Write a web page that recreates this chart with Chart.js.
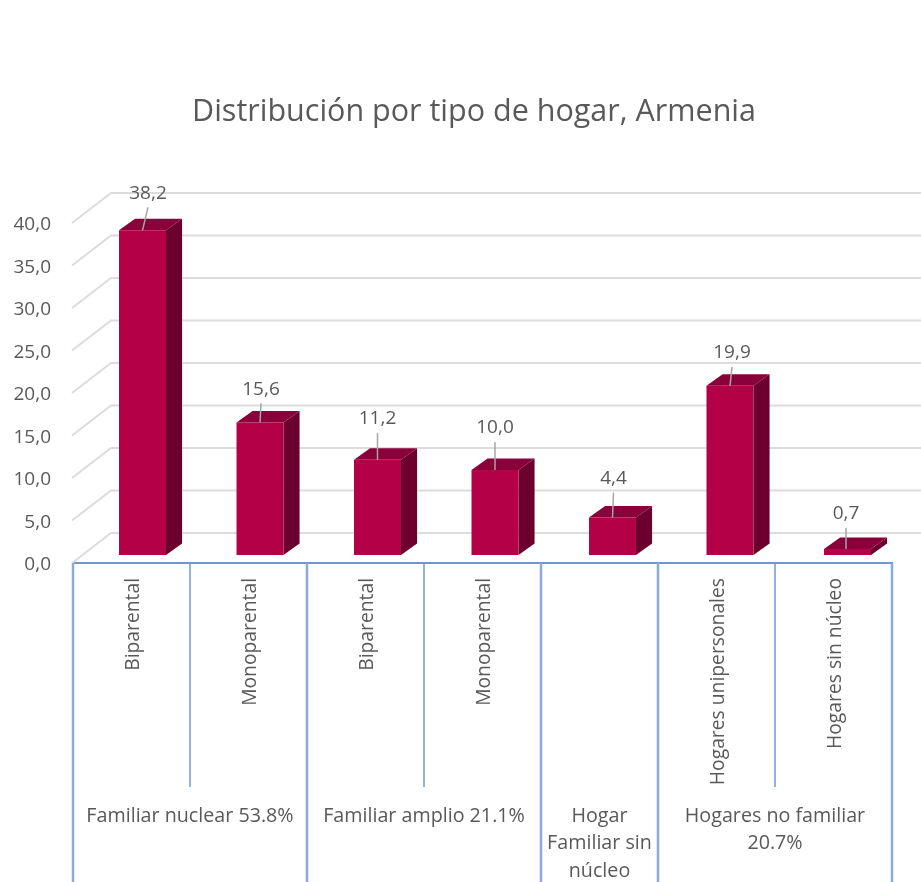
<!DOCTYPE html>
<html>
<head>
<meta charset="utf-8">
<title>Distribución por tipo de hogar, Armenia</title>
<script src="https://cdn.jsdelivr.net/npm/chart.js@4"></script>
<style>
    html, body { margin: 0; padding: 0; background: #fff; }
    canvas { display: block; }
</style>
</head>
<body>
<canvas id="hogarChart" width="921" height="882"></canvas>
<script>
// ============================================
// Data
// ============================================
const categories = ['Biparental', 'Monoparental', 'Biparental', 'Monoparental', '', 'Hogares unipersonales', 'Hogares sin núcleo'];
const values = [38.2, 15.6, 11.2, 10.0, 4.4, 19.9, 0.7];
const groupLabels = [
    ['Familiar nuclear 53.8%'],
    ['Familiar amplio 21.1%'],
    ['Hogar', 'Familiar sin', 'núcleo'],
    ['Hogares no familiar', '20.7%']
];
const groupSpans = [2, 2, 1, 2];

const FONT = '"Open Sans", sans-serif';
const TEXT_COLOR = '#595959';
const GRID_COLOR = '#dcdcdc';
const AXIS_BLUE = '#6f97cc';
const AXIS_BLUE_LIGHT = '#8aaad8';

// fake 3D: floor shift of the grid, shift of the bars, depth of a bar
const FLOOR = { dx: 39, dy: -30 };
const BAR_SHIFT = { dx: 10.75, dy: -8 };
const BAR_STRETCH = 117.5 / 117;
const BAR_DEPTH = { dx: 16, dy: -11.5 };
// where each value label sits, measured from the middle of the bar's top edge
const labelOffsets = [[5.5, -37], [1, -33], [0, -41], [0, -42], [1, -39], [2, -33], [-1.5, -35]];

function formatValue(v) {
    return v.toFixed(1).replace('.', ',');
}

function polygon(ctx, points, color) {
    ctx.fillStyle = color;
    ctx.beginPath();
    points.forEach((p, i) => i ? ctx.lineTo(p[0], p[1]) : ctx.moveTo(p[0], p[1]));
    ctx.closePath();
    ctx.fill();
}

function shiftedBarX(chart, x) {
    const left = chart.chartArea.left;
    return left + (x - left) * BAR_STRETCH + BAR_SHIFT.dx;
}

// Grid lines: diagonal on the side wall, then flat on the back wall
const gridPlugin = {
    id: 'grid3d',
    beforeDatasetsDraw(chart) {
        const ctx = chart.ctx;
        const y = chart.scales.y;
        const left = chart.chartArea.left - 1;
        ctx.save();
        ctx.strokeStyle = GRID_COLOR;
        ctx.lineWidth = 2;
        y.ticks.forEach(t => {
            const py = y.getPixelForValue(t.value);
            ctx.beginPath();
            ctx.moveTo(left, py);
            ctx.lineTo(left + FLOOR.dx, py + FLOOR.dy);
            ctx.lineTo(chart.width, py + FLOOR.dy);
            ctx.stroke();
        });
        ctx.restore();
    }
};

// Side and top faces of the bars, plus the shift of the whole series
const barPlugin = {
    id: 'bars3d',
    beforeDatasetDraw(chart, args) {
        const ctx = chart.ctx;
        const left = chart.chartArea.left;
        ctx.save();
        ctx.translate(left + BAR_SHIFT.dx, BAR_SHIFT.dy);
        ctx.scale(BAR_STRETCH, 1);
        ctx.translate(-left, 0);
        chart.getDatasetMeta(args.index).data.forEach(bar => {
            const l = bar.x - bar.width / 2;
            const r = bar.x + bar.width / 2;
            polygon(ctx, [[r, bar.y], [r + BAR_DEPTH.dx, bar.y + BAR_DEPTH.dy], [r + BAR_DEPTH.dx, bar.base + BAR_DEPTH.dy], [r, bar.base]], '#6b002e');
            polygon(ctx, [[l, bar.y], [l + BAR_DEPTH.dx, bar.y + BAR_DEPTH.dy], [r + BAR_DEPTH.dx, bar.y + BAR_DEPTH.dy], [r, bar.y]], '#8a003a');
        });
    },
    afterDatasetDraw(chart) {
        chart.ctx.restore();
    }
};

// Value labels with their leader lines
const labelPlugin = {
    id: 'valueLabels',
    afterDatasetsDraw(chart) {
        const ctx = chart.ctx;
        ctx.save();
        ctx.font = '19px ' + FONT;
        ctx.textAlign = 'center';
        ctx.textBaseline = 'middle';
        chart.getDatasetMeta(0).data.forEach((bar, i) => {
            const x0 = shiftedBarX(chart, bar.x) + Math.min(labelOffsets[i][0], 0);
            const y0 = bar.y + BAR_SHIFT.dy;
            const lx = shiftedBarX(chart, bar.x) + labelOffsets[i][0];
            const ly = y0 + labelOffsets[i][1];
            ctx.strokeStyle = '#a6a6a6';
            ctx.lineWidth = 1.5;
            ctx.beginPath();
            ctx.moveTo(x0, y0);
            ctx.lineTo(lx, ly + 14);
            ctx.stroke();
            ctx.fillStyle = TEXT_COLOR;
            ctx.fillText(formatValue(values[i]), lx, ly);
        });
        ctx.restore();
    }
};

// Second level of the category axis: separators and group names
const groupPlugin = {
    id: 'groupAxis',
    afterLayout(chart) {
        // title sits a bit right of the canvas middle
        chart.titleBlock.left = 56;
    },
    afterDraw(chart) {
        const ctx = chart.ctx;
        const x = chart.scales.x;
        const area = chart.chartArea;
        const bandWidth = x.getPixelForValue(1) - x.getPixelForValue(0);
        const edge = i => x.getPixelForValue(i) - bandWidth / 2;
        ctx.save();
        ctx.strokeStyle = AXIS_BLUE;
        ctx.lineWidth = 1.5;
        categories.forEach((_, i) => {
            ctx.beginPath();
            ctx.moveTo(edge(i), area.bottom);
            ctx.lineTo(edge(i), 787);
            ctx.stroke();
        });
        ctx.font = '19.7px ' + FONT;
        ctx.textAlign = 'center';
        ctx.textBaseline = 'middle';
        ctx.strokeStyle = AXIS_BLUE_LIGHT;
        ctx.lineWidth = 2.5;
        let start = 0;
        groupSpans.forEach((span, g) => {
            ctx.beginPath();
            ctx.moveTo(edge(start), area.bottom);
            ctx.lineTo(edge(start), chart.height);
            ctx.stroke();
            const cx = (edge(start) + edge(start + span)) / 2;
            ctx.fillStyle = TEXT_COLOR;
            groupLabels[g].forEach((line, k) => ctx.fillText(line, cx, 816 + k * 27.5));
            start += span;
        });
        ctx.beginPath();
        ctx.moveTo(edge(start), area.bottom);
        ctx.lineTo(edge(start), chart.height);
        ctx.stroke();
        ctx.restore();
    }
};

new Chart(document.getElementById('hogarChart').getContext('2d'), {
    type: 'bar',
    data: {
        labels: categories,
        datasets: [{
            data: values,
            backgroundColor: '#b30046',
            barPercentage: 0.4,
            categoryPercentage: 1
        }]
    },
    plugins: [gridPlugin, barPlugin, labelPlugin, groupPlugin],
    options: {
        responsive: false,
        animation: false,
        layout: {
            autoPadding: false,
            padding: { left: 0, right: 29, top: 0, bottom: 0 }
        },
        plugins: {
            legend: { display: false },
            tooltip: { enabled: false },
            title: {
                display: true,
                text: 'Distribución por tipo de hogar, Armenia',
                color: TEXT_COLOR,
                font: { family: FONT, size: 30.5, weight: 'normal', lineHeight: 1.2 },
                padding: { top: 94, bottom: 92.4 }
            }
        },
        scales: {
            x: {
                afterFit(axis) { axis.height = 319; },
                grid: { display: false },
                border: { display: true, color: AXIS_BLUE, width: 2 },
                ticks: {
                    autoSkip: false,
                    minRotation: 90,
                    maxRotation: 90,
                    padding: 7,
                    labelOffset: 2,
                    color: TEXT_COLOR,
                    font: { family: FONT, size: 19.3 }
                }
            },
            y: {
                min: 0,
                max: 40,
                afterFit(axis) { axis.width = 73; },
                grid: { display: false },
                border: { display: false },
                ticks: {
                    stepSize: 5,
                    padding: 14,
                    labelOffset: 2,
                    color: TEXT_COLOR,
                    font: { family: FONT, size: 19 },
                    callback: v => formatValue(v)
                }
            }
        }
    }
});
</script>
</body>
</html>
